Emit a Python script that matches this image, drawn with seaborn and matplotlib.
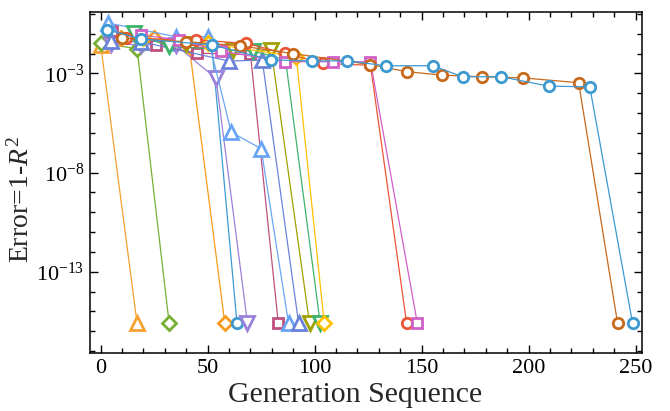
import numpy as np
import pandas as pd
import matplotlib
matplotlib.use("Agg")
import matplotlib.pyplot as plt
import matplotlib.ticker as mticker
import seaborn as sns

# datos (generacion, error = 1 - R^2)
gen_a = [0, 17]
err_a = [0.0275, 2.5e-16]
gen_b = [0, 17, 32]
err_b = [0.033, 0.018, 2.5e-16]
gen_c = [9.4, 25, 41.4, 58]
err_c = [0.065, 0.065, 0.023, 2.5e-16]
gen_d = [3, 34.8, 51.9, 63.7]
err_d = [0.16, 0.0275, 0.0275, 2.5e-16]
gen_e = [5, 18.7, 35, 53.9, 68.6]
err_e = [0.032, 0.0275, 0.028, 0.00056, 2.5e-16]
gen_f = [5.5, 25.8, 44.8, 70, 83]
err_f = [0.14, 0.0275, 0.0105, 0.0091, 2.5e-16]
gen_g = [3.6, 35, 50, 61, 75, 87.8]
err_g = [0.35, 0.072, 0.072, 1.1e-6, 1.6e-7, 2.5e-16]
gen_h = [4.7, 18.7, 60.1, 75.5, 92.5]
err_h = [0.041, 0.04, 0.0042, 0.0048, 2.5e-16]
gen_i = [40, 61.7, 79.7, 97.6]
err_i = [0.032, 0.015, 0.015, 2.5e-16]
gen_j = [15.6, 32, 71.4, 86.4, 102.6]
err_j = [0.107, 0.023, 0.0135, 0.0048, 2.5e-16]
gen_k = [20, 50, 91.4, 104.5]
err_k = [0.06, 0.033, 0.0071, 2.5e-16]
gen_l = [11.7, 44.5, 68, 86, 103.9, 126.1, 143]
err_l = [0.06, 0.049, 0.033, 0.0105, 0.0032, 0.0026, 2.5e-16]
gen_m = [18.7, 36.7, 56.2, 86, 108.6, 126.1, 148]
err_m = [0.087, 0.049, 0.0135, 0.0039, 0.0039, 0.0039, 2.5e-16]
gen_n = [10, 40, 65, 90, 126.1, 143, 159.4, 178.2, 197.3, 223.4, 241.6]
err_n = [0.06, 0.04, 0.025, 0.01, 0.0028, 0.00123, 0.00083, 0.00068, 0.0006, 0.00034, 2.5e-16]
gen_o = [3, 18.7, 51.9, 79.7, 98.9, 115.3, 133.3, 155.2, 169.2, 187.2, 209.4, 228.6, 248.6]
err_o = [0.16, 0.055, 0.0275, 0.0048, 0.0043, 0.0043, 0.00245, 0.00245, 0.00068, 0.00068, 0.00023, 0.00021, 2.5e-16]

series_gen = [gen_a, gen_b, gen_c, gen_d, gen_e, gen_f, gen_g, gen_h,
              gen_i, gen_j, gen_k, gen_l, gen_m, gen_n, gen_o]
series_err = [err_a, err_b, err_c, err_d, err_e, err_f, err_g, err_h,
              err_i, err_j, err_k, err_l, err_m, err_n, err_o]
colores = ['#F5A030', '#76B032', '#F89A1C', '#3D9AD1', '#9B80DC', '#C0507E',
           '#6AA5F5', '#6A82DA', '#A0A000', '#3DB36B', '#FFC000', '#EB5535',
           '#D060C8', '#C8691C', '#3D9AD1']
marcadores = ['^', 'D', 'D', 'o', 'v', 's', '^', '^', 'v', 'v', 'D', 'o', 's', 'o', 'o']
tamanos = {'^': 9.5, 'v': 9.5, 'D': 7.0, 's': 7.5, 'o': 7.5}

filas = []
for k, (g, e) in enumerate(zip(series_gen, series_err)):
    for gg, ee in zip(g, e):
        filas.append({'serie': k, 'gen': gg, 'err': ee})
df = pd.DataFrame(filas)

sns.set_style("ticks")
plt.rcParams['font.family'] = ['Liberation Serif', 'DejaVu Serif']
plt.rcParams['mathtext.fontset'] = 'custom'
plt.rcParams['mathtext.rm'] = 'Liberation Serif'
plt.rcParams['mathtext.it'] = 'Liberation Serif:italic'

fig = plt.figure(figsize=(6.7, 4.11), dpi=100)
ax = fig.add_axes([90 / 670, 1 - 353 / 411, 552 / 670, 341 / 411])

for k in range(len(series_gen)):
    sub = df[df['serie'] == k]
    m = marcadores[k]
    sns.lineplot(data=sub, x='gen', y='err', ax=ax, sort=False, color=colores[k],
                 linewidth=0.9, marker=m, markersize=tamanos[m],
                 markerfacecolor='white', markeredgecolor=colores[k],
                 markeredgewidth=2.0, legend=False)

ax.set_yscale('log')
ax.set_xlim(-5, 253)
ax.set_ylim(10 ** -17.1, 10 ** 0.1)

ax.xaxis.set_major_locator(mticker.MultipleLocator(50))
ax.xaxis.set_minor_locator(mticker.MultipleLocator(10))
ax.yaxis.set_major_locator(mticker.FixedLocator([1e-3, 1e-8, 1e-13]))
ax.yaxis.set_major_formatter(mticker.FixedFormatter([r'$\mathregular{10^{-3}}$',
                                                     r'$\mathregular{10^{-8}}$',
                                                     r'$\mathregular{10^{-13}}$']))
ax.yaxis.set_minor_locator(mticker.FixedLocator([10.0 ** p for p in range(-17, 1)]))
ax.yaxis.set_minor_formatter(mticker.NullFormatter())

ax.tick_params(which='both', direction='in', top=True, right=True, width=1.0,
               labelsize=16, pad=4, colors='black')
ax.tick_params(which='major', length=6)
ax.tick_params(which='minor', length=3.5)
for s in ax.spines.values():
    s.set_linewidth(1.1)
    s.set_color('black')

ax.set_xlabel('Generation Sequence', fontsize=21.5)
ax.set_ylabel(r'Error=1-$\mathit{R}^2$', fontsize=20)
ax.xaxis.set_label_coords(0.48, -0.085)
ax.yaxis.set_label_coords(-0.10, 0.45)
ax.grid(False)

fig.savefig('out.png', dpi=100)
